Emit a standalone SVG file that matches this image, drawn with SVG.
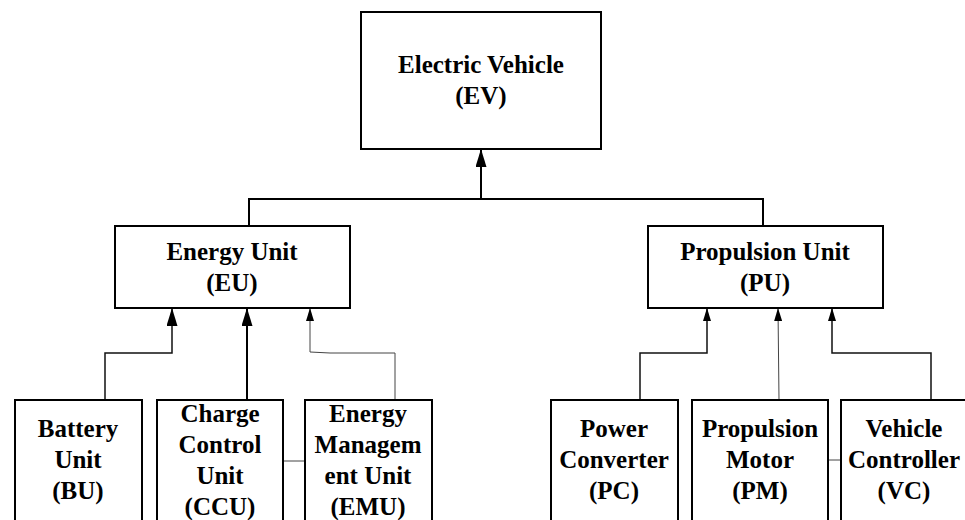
<svg xmlns="http://www.w3.org/2000/svg" width="965" height="520" viewBox="0 0 965 520">
<style>
.box{fill:#fff;stroke:#000;stroke-width:2}
text{font-family:'Liberation Serif','Times New Roman','DejaVu Serif',serif;font-weight:700;font-size:25px;fill:#000;text-anchor:middle}
.thick{fill:none;stroke:#000;stroke-width:2}
.mid{fill:none;stroke:#111;stroke-width:1.5}
.thin{fill:none;stroke:#444;stroke-width:1}
</style>
<defs>
<marker id="ah" viewBox="0 0 18 11" refX="18" refY="5.5" markerWidth="18" markerHeight="11" orient="auto" markerUnits="userSpaceOnUse">
<path d="M0,0 L18,5.5 L0,11 z" fill="#000"/>
</marker>
<marker id="ahs" viewBox="0 0 13 8" refX="13" refY="4" markerWidth="13" markerHeight="8" orient="auto" markerUnits="userSpaceOnUse">
<path d="M0,0 L13,4 L0,8 z" fill="#000"/>
</marker>
</defs>
<rect width="965" height="520" fill="#fff"/>
<g id="connectors">
<path class="thick" d="M249,227 V199 H763 V227"/>
<path class="thick" d="M481,199 V149" marker-end="url(#ah)"/>
<path class="mid" d="M105,400 V353 H172 V308" marker-end="url(#ah)"/>
<path class="thick" d="M247,400 V308" marker-end="url(#ah)"/>
<path class="thin" d="M395,400 V353 H330 L310,352 V308" marker-end="url(#ahs)"/>
<path class="thin" d="M283,461 H305"/>
<path class="mid" d="M640,400 V353 H707 V308" marker-end="url(#ahs)"/>
<path class="thin" d="M779,400 L778,308" marker-end="url(#ahs)"/>
<path class="mid" d="M931,400 V353 H832 V308" marker-end="url(#ahs)"/>
<path class="thin" d="M828,460 H841"/>
</g>
<g id="ev">
<rect class="box" x="361" y="12" width="240" height="137"/>
<text x="481" y="73" font-family="Liberation Serif">Electric Vehicle</text>
<text x="481" y="104" font-family="Liberation Serif">(EV)</text>
</g>
<g id="eu">
<rect class="box" x="115" y="226" width="235" height="82"/>
<text x="232" y="260">Energy Unit</text>
<text x="232" y="291">(EU)</text>
</g>
<g id="pu">
<rect class="box" x="648" y="226" width="235" height="82"/>
<text x="765" y="260">Propulsion Unit</text>
<text x="765" y="291">(PU)</text>
</g>
<g id="bu">
<rect class="box" x="15" y="400" width="127" height="140"/>
<text x="78" y="437">Battery</text>
<text x="78" y="468">Unit</text>
<text x="78" y="499">(BU)</text>
</g>
<g id="ccu">
<rect class="box" x="157" y="400" width="126" height="140"/>
<text x="220" y="422">Charge</text>
<text x="220" y="453">Control</text>
<text x="220" y="484">Unit</text>
<text x="220" y="515">(CCU)</text>
</g>
<g id="emu">
<rect class="box" x="305" y="400" width="127" height="140"/>
<text x="368" y="422">Energy</text>
<text x="368" y="453">Managem</text>
<text x="368" y="484">ent Unit</text>
<text x="368" y="515">(EMU)</text>
</g>
<g id="pc">
<rect class="box" x="551" y="400" width="127" height="140"/>
<text x="614" y="437">Power</text>
<text x="614" y="468">Converter</text>
<text x="614" y="499">(PC)</text>
</g>
<g id="pm">
<rect class="box" x="692" y="400" width="136" height="140"/>
<text x="760" y="437">Propulsion</text>
<text x="760" y="468">Motor</text>
<text x="760" y="499">(PM)</text>
</g>
<g id="vc">
<rect class="box" x="841" y="400" width="128" height="140"/>
<text x="904" y="437">Vehicle</text>
<text x="904" y="468">Controller</text>
<text x="904" y="499">(VC)</text>
</g>
</svg>
